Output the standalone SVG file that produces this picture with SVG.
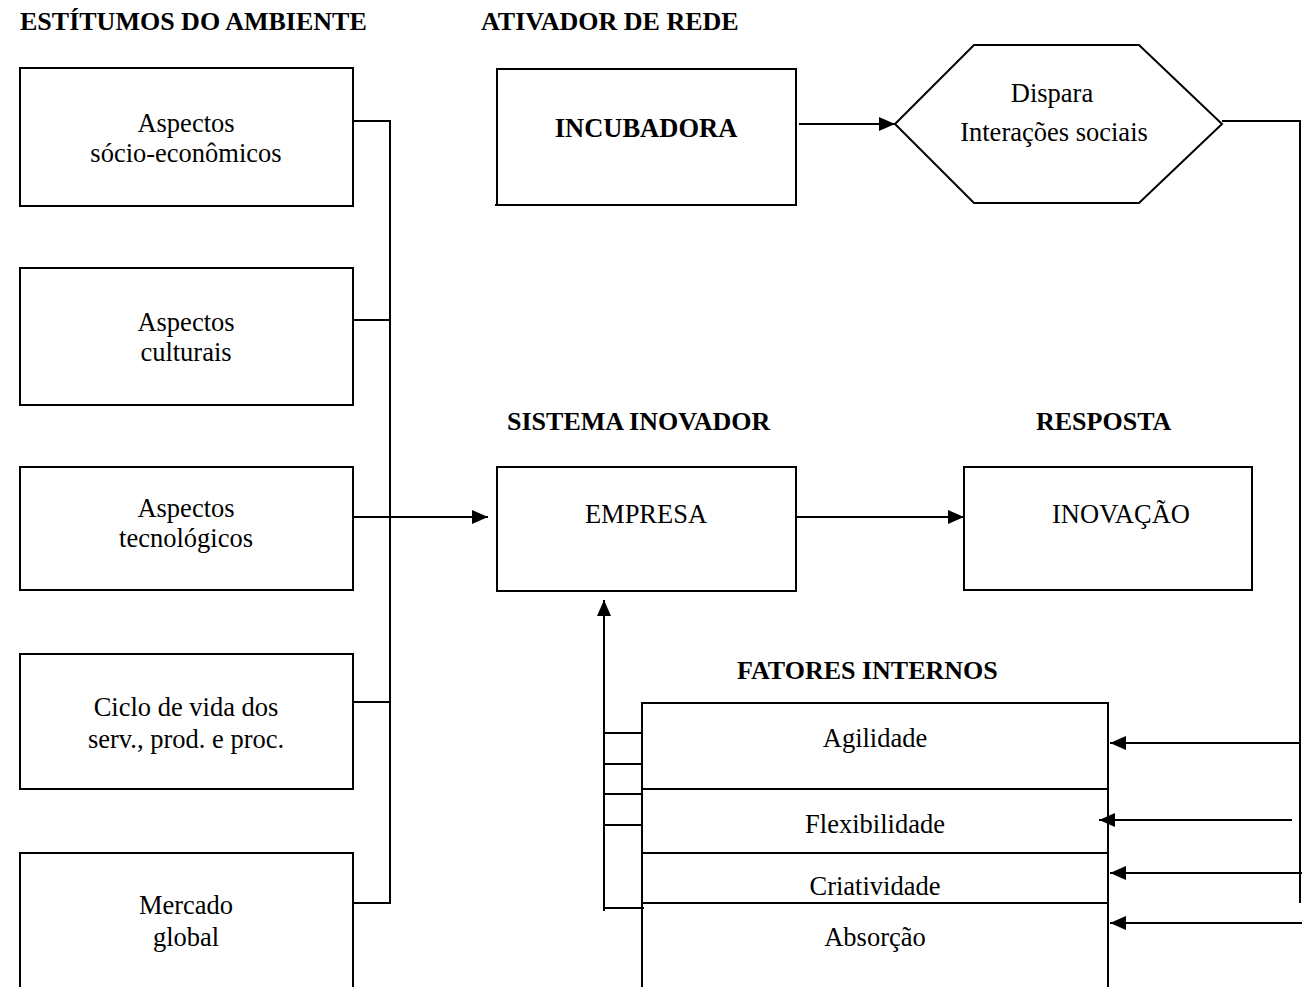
<svg xmlns="http://www.w3.org/2000/svg" width="1307" height="987" viewBox="0 0 1307 987">
<style>
.box{fill:#fff;stroke:#000;stroke-width:2}
.ln{fill:none;stroke:#000;stroke-width:2}
.t{font-family:"Liberation Serif","Times New Roman",serif;font-size:26.5px;fill:#000;text-anchor:middle}
.h{font-family:"Liberation Serif","Times New Roman",serif;font-size:26px;font-weight:bold;fill:#000}
</style>
<defs>
<marker id="ah" viewBox="0 0 16 14" refX="16" refY="7" markerWidth="16" markerHeight="14" markerUnits="userSpaceOnUse" orient="auto">
<path d="M0,0 L16,7 L0,14 Z" fill="#000"/>
</marker>
</defs>
<rect width="1307" height="987" fill="#fff"/>

<g id="headers">
<text class="h" x="20" y="30">ESTÍTUMOS DO AMBIENTE</text>
<text class="h" x="481" y="30">ATIVADOR DE REDE</text>
<text class="h" x="507" y="430">SISTEMA INOVADOR</text>
<text class="h" x="1036" y="430">RESPOSTA</text>
<text class="h" x="737" y="679">FATORES INTERNOS</text>
</g>

<g id="n-socio">
<rect class="box" x="20" y="68" width="333" height="138"/>
<text class="t" x="186" y="132">Aspectos</text>
<text class="t" x="186" y="162">sócio-econômicos</text>
</g>
<g id="n-culturais">
<rect class="box" x="20" y="268" width="333" height="137"/>
<text class="t" x="186" y="331">Aspectos</text>
<text class="t" x="186" y="361">culturais</text>
</g>
<g id="n-tecno">
<rect class="box" x="20" y="467" width="333" height="123"/>
<text class="t" x="186" y="517">Aspectos</text>
<text class="t" x="186" y="547">tecnológicos</text>
</g>
<g id="n-ciclo">
<rect class="box" x="20" y="654" width="333" height="135"/>
<text class="t" x="186" y="716">Ciclo de vida dos</text>
<text class="t" x="186" y="748">serv., prod. e proc.</text>
</g>
<g id="n-mercado">
<path class="ln" d="M20,992 V853 H353 V992"/>
<text class="t" x="186" y="914">Mercado</text>
<text class="t" x="186" y="946">global</text>
</g>

<g id="n-incubadora">
<path class="ln" d="M495,205 H796 V69 H497 V205"/>
<text class="t" x="646" y="137" font-weight="bold">INCUBADORA</text>
</g>
<g id="n-dispara">
<polygon class="box" points="895,124 974,45 1139,45 1222,124 1139,203 974,203"/>
<text class="t" x="1052" y="102">Dispara</text>
<text class="t" x="1054" y="141">Interações sociais</text>
</g>

<g id="n-empresa">
<rect class="box" x="497" y="467" width="299" height="124"/>
<text class="t" x="646" y="523">EMPRESA</text>
</g>
<g id="n-inovacao">
<rect class="box" x="964" y="467" width="288" height="123"/>
<text class="t" x="1121" y="523">INOVAÇÃO</text>
</g>

<g id="n-fatores">
<path class="ln" d="M642,992 V703 H1108 V992"/>
<line class="ln" x1="642" y1="789" x2="1108" y2="789"/>
<line class="ln" x1="642" y1="853" x2="1108" y2="853"/>
<line class="ln" x1="642" y1="903" x2="1108" y2="903"/>
<text class="t" x="875" y="747">Agilidade</text>
<text class="t" x="875" y="833">Flexibilidade</text>
<text class="t" x="875" y="895">Criatividade</text>
<text class="t" x="875" y="946">Absorção</text>
</g>

<g id="connectors">
<path class="ln" d="M353,121 H390 V903 H353"/>
<line class="ln" x1="353" y1="320" x2="390" y2="320"/>
<line class="ln" x1="353" y1="702" x2="390" y2="702"/>
<line class="ln" x1="353" y1="517" x2="390" y2="517"/>
<line class="ln" x1="390" y1="517" x2="488" y2="517" marker-end="url(#ah)"/>
<line class="ln" x1="799" y1="124" x2="895" y2="124" marker-end="url(#ah)"/>
<line class="ln" x1="796" y1="517" x2="964" y2="517" marker-end="url(#ah)"/>
<path class="ln" d="M1222,121 H1300 V903"/>
<line class="ln" x1="1300" y1="743" x2="1110" y2="743" marker-end="url(#ah)"/>
<line class="ln" x1="1292" y1="820" x2="1099" y2="820" marker-end="url(#ah)"/>
<line class="ln" x1="1302" y1="873" x2="1110" y2="873" marker-end="url(#ah)"/>
<line class="ln" x1="1302" y1="923" x2="1110" y2="923" marker-end="url(#ah)"/>
<line class="ln" x1="604" y1="911" x2="604" y2="600" marker-end="url(#ah)"/>
<line class="ln" x1="604" y1="733" x2="642" y2="733"/>
<line class="ln" x1="604" y1="764" x2="642" y2="764"/>
<line class="ln" x1="604" y1="794" x2="642" y2="794"/>
<line class="ln" x1="604" y1="825" x2="642" y2="825"/>
<line class="ln" x1="604" y1="908" x2="644" y2="908"/>
</g>
</svg>
